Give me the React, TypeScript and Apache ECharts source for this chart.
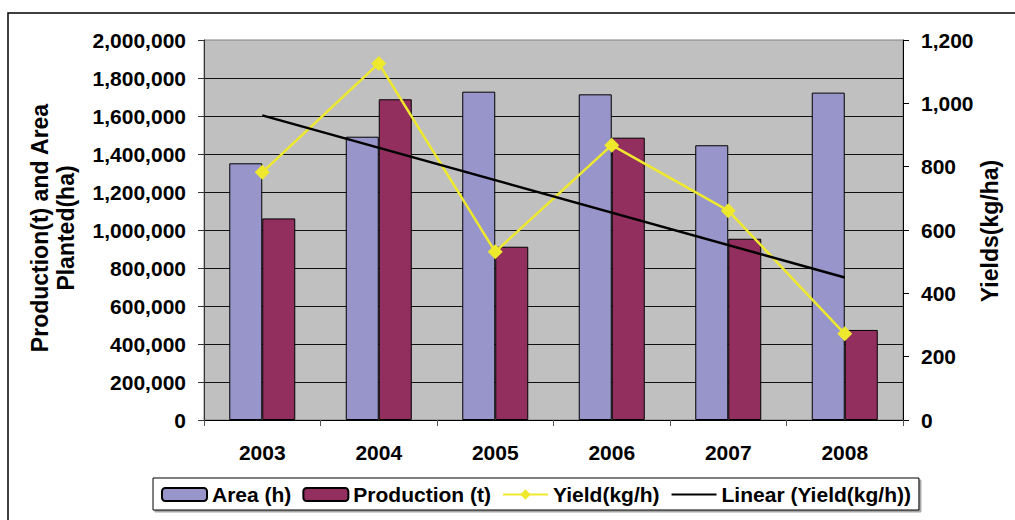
import React, { useEffect, useRef } from "react";
import * as echarts from "echarts";

const years = ["2003", "2004", "2005", "2006", "2007", "2008"];
const areaPlanted = [1351000, 1491000, 1728000, 1714000, 1446000, 1723000];
const production = [1061000, 1688000, 912000, 1486000, 954000, 474000];
const yieldKg = [782, 1126, 531, 868, 661, 272];
const linearTrend = [962, null, null, null, null, 450];

const leftTicks = { min: 0, max: 2000000, interval: 200000 };
const rightTicks = { min: 0, max: 1200, interval: 200 };

const FONT = "'Liberation Sans', Arial, sans-serif";

export default function App() {
  const ref = useRef<HTMLDivElement>(null);

  useEffect(() => {
    if (!ref.current) return;
    const chart = echarts.init(ref.current, undefined, { renderer: "svg" });
    const labelStyle = {
      fontFamily: FONT,
      fontWeight: "bold" as const,
      fontSize: 21,
      color: "#000",
    };
    chart.setOption({
      animation: false,
      backgroundColor: "#fff",
      textStyle: { fontFamily: FONT },
      grid: {
        left: 204,
        top: 40,
        right: 112,
        bottom: 100,
        show: true,
        backgroundColor: "#C0C0C0",
        borderColor: "#808080",
        borderWidth: 1,
      },
      legend: {
        left: 153,
        top: 478,
        orient: "horizontal",
        itemWidth: 45,
        itemHeight: 13,
        itemGap: 11,
        padding: [6, 8, 5, 8],
        borderColor: "#000",
        borderWidth: 1,
        backgroundColor: "#fff",
        shadowColor: "rgba(0,0,0,0.35)",
        shadowOffsetX: 2,
        shadowOffsetY: 2,
        shadowBlur: 0,
        textStyle: { ...labelStyle, fontSize: 21 },
        data: [
          "Area (h)",
          "Production (t)",
          "Yield(kg/h)",
          {
            name: "Linear (Yield(kg/h))",
            itemStyle: { color: "rgba(0,0,0,0)", borderWidth: 0 },
          },
        ],
      },
      xAxis: {
        type: "category",
        data: years,
        boundaryGap: true,
        axisLine: { show: true, lineStyle: { color: "#000", width: 1 } },
        axisTick: { show: true, inside: false, length: 6, lineStyle: { color: "#555" } },
        axisLabel: { ...labelStyle, margin: 22 },
        splitLine: { show: false },
      },
      yAxis: [
        {
          type: "value",
          position: "left",
          ...leftTicks,
          axisLine: { show: true, lineStyle: { color: "#333", width: 1 } },
          axisTick: { show: true, inside: false, length: 6, lineStyle: { color: "#333" } },
          axisLabel: {
            ...labelStyle,
            margin: 18,
            formatter: (v: number) => v.toLocaleString("en-US"),
          },
          splitLine: {
            show: true,
            showMinLine: false,
            showMaxLine: false,
            lineStyle: { color: "#111", width: 1 },
          },
        },
        {
          type: "value",
          position: "right",
          ...rightTicks,
          axisLine: { show: true, lineStyle: { color: "#000", width: 1 } },
          axisTick: { show: true, inside: false, length: 6, lineStyle: { color: "#000" } },
          axisLabel: {
            ...labelStyle,
            margin: 18,
            formatter: (v: number) => v.toLocaleString("en-US"),
          },
          splitLine: { show: false },
        },
      ],
      series: [
        {
          name: "Area (h)",
          type: "bar",
          yAxisIndex: 0,
          data: areaPlanted,
          barWidth: 33,
          barGap: "0%",
          itemStyle: { color: "#9795C9", borderColor: "#000", borderWidth: 1 },
        },
        {
          name: "Production (t)",
          type: "bar",
          yAxisIndex: 0,
          data: production,
          barWidth: 33,
          barGap: "0%",
          itemStyle: { color: "#922F5E", borderColor: "#000", borderWidth: 1 },
        },
        {
          name: "Yield(kg/h)",
          type: "line",
          yAxisIndex: 1,
          data: yieldKg,
          symbol: "diamond",
          symbolSize: 15,
          lineStyle: { color: "#EFE92E", width: 2.5 },
          itemStyle: { color: "#EFE92E" },
          z: 5,
        },
        {
          name: "Linear (Yield(kg/h))",
          type: "line",
          yAxisIndex: 1,
          data: linearTrend,
          connectNulls: true,
          symbol: "none",
          lineStyle: { color: "#000", width: 2.5 },
          itemStyle: { color: "#000" },
          z: 6,
        },
      ],
      graphic: [
        {
          type: "rect",
          shape: { x: 8, y: 13, width: 1030, height: 540 },
          style: { fill: "none", stroke: "#000", lineWidth: 1.5 },
          silent: true,
          z: 100,
        },
        {
          type: "text",
          x: 53,
          y: 228,
          rotation: Math.PI / 2,
          style: {
            text: "Production(t) and Area\nPlanted(ha)",
            fontFamily: FONT,
            fontWeight: "bold",
            fontSize: 23,
            lineHeight: 26,
            fill: "#000",
            align: "center",
            verticalAlign: "middle",
          },
        },
        {
          type: "text",
          x: 990,
          y: 231,
          rotation: Math.PI / 2,
          style: {
            text: "Yields(kg/ha)",
            fontFamily: FONT,
            fontWeight: "bold",
            fontSize: 23,
            fill: "#000",
            align: "center",
            verticalAlign: "middle",
          },
        },
      ],
    });
    return () => chart.dispose();
  }, []);

  return (
    <div
      ref={ref}
      style={{ position: "fixed", left: 0, top: 0, width: 1015, height: 520 }}
    />
  );
}
